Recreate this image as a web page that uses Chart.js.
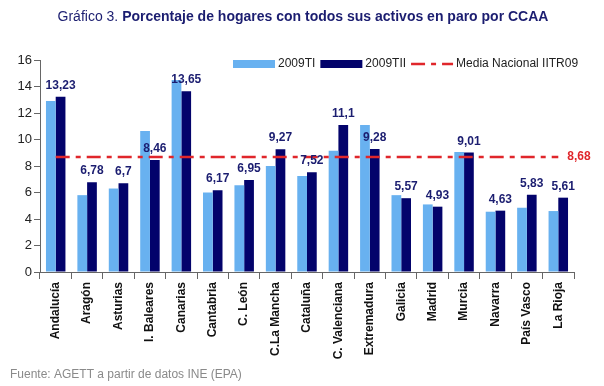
<!DOCTYPE html>
<html>
<head>
<meta charset="utf-8">
<script src="https://cdn.jsdelivr.net/npm/chart.js@4.4.0/dist/chart.umd.min.js"></script>
<style>
  html, body { margin: 0; padding: 0; background: #fff; }
  #wrap { position: relative; width: 604px; height: 386px; }
</style>
</head>
<body>
<div id="wrap"><canvas id="chart" width="604" height="386"></canvas></div>
<script>
// ------------------------- DATA ----------------------------------------------

var regions = ['Andalucía', 'Aragón', 'Asturias', 'I. Baleares', 'Canarias', 'Cantabria', 'C. León',
  'C.La Mancha', 'Cataluña', 'C. Valenciana', 'Extremadura', 'Galicia', 'Madrid', 'Murcia',
  'Navarra', 'País Vasco', 'La Rioja'];
var values2009TI = [12.9, 5.8, 6.3, 10.65, 14.5, 6.0, 6.55, 8.0, 7.25, 9.15, 11.1, 5.8, 5.1, 9.05, 4.55, 4.85, 4.6];
var values2009TII = [13.23, 6.78, 6.7, 8.46, 13.65, 6.17, 6.95, 9.27, 7.52, 11.1, 9.28, 5.57, 4.93, 9.01, 4.63, 5.83, 5.61];
var mediaNacional = 8.68;
var seriesNames = ['2009TI', '2009TII', 'Media Nacional IITR09'];
var titleLead = 'Gráfico 3. ';
var titleMain = 'Porcentaje de hogares con todos sus activos en paro por CCAA';
var sourceNote = 'Fuente: AGETT a partir de datos INE (EPA)';

// ------------------------- HELPERS -------------------------------------------

var FONT = '"Liberation Sans", Arial, sans-serif';

// 13.23 -> "13,23"
var commaDecimal = function(x) {
  return x.toString().replace('.', ',');
};

// ------------------------- PLUGINS -------------------------------------------

// title on top and the source note at the bottom
var textPlugin = {
  id: 'texts',
  afterDraw: function(chart) {
    var ctx = chart.ctx;
    ctx.save();
    ctx.fillStyle = '#1b1d70';
    ctx.textBaseline = 'alphabetic';
    ctx.font = '14px ' + FONT;
    var w1 = ctx.measureText(titleLead).width;
    ctx.font = 'bold 14px ' + FONT;
    var w2 = ctx.measureText(titleMain).width;
    var x = 303 - (w1 + w2) / 2;
    ctx.font = '14px ' + FONT;
    ctx.fillText(titleLead, x, 21);
    ctx.font = 'bold 14px ' + FONT;
    ctx.fillText(titleMain, x + w1, 21);

    ctx.fillStyle = '#8a8a8a';
    ctx.font = '12px ' + FONT;
    ctx.fillText(sourceNote, 10, 378);
    ctx.restore();
  }
};

// legend drawn inside the plot, top right
var legendPlugin = {
  id: 'legendInside',
  afterDraw: function(chart) {
    var ctx = chart.ctx;
    var x = 233, y = 64;
    ctx.save();
    ctx.font = '12px ' + FONT;
    ctx.textBaseline = 'middle';
    chart.data.datasets.forEach(function(ds) {
      if (ds.type === 'line') {
        ctx.strokeStyle = ds.borderColor;
        ctx.lineWidth = ds.borderWidth;
        ctx.setLineDash(ds.borderDash);
        ctx.beginPath();
        ctx.moveTo(x, y);
        ctx.lineTo(x + 42, y);
        ctx.stroke();
        ctx.setLineDash([]);
      } else {
        ctx.fillStyle = ds.backgroundColor;
        ctx.fillRect(x, y - 4, 42, 8);
      }
      x += 45;
      ctx.fillStyle = '#222';
      ctx.fillText(ds.label, x, y);
      x += ctx.measureText(ds.label).width + 5;
    });
    ctx.restore();
  }
};

// values over the 2009TII bars and the national mean label
var valuePlugin = {
  id: 'values',
  afterDatasetsDraw: function(chart) {
    var ctx = chart.ctx;
    ctx.save();
    ctx.font = 'bold 12px ' + FONT;
    ctx.fillStyle = '#1b1d70';
    ctx.textAlign = 'center';
    ctx.textBaseline = 'alphabetic';
    var meta = chart.getDatasetMeta(1);
    meta.data.forEach(function(bar, i) {
      ctx.fillText(commaDecimal(values2009TII[i]), bar.x, bar.y - 8);
    });

    var line = chart.getDatasetMeta(2).data;
    var last = line[line.length - 1];
    ctx.fillStyle = '#e0262b';
    ctx.textAlign = 'left';
    ctx.textBaseline = 'middle';
    ctx.fillText(commaDecimal(mediaNacional), last.x + 9, last.y);
    ctx.restore();
  }
};

// ------------------------- CHART ---------------------------------------------

function makeChart() {
  var canvas = document.getElementById('chart');
  return new Chart(canvas, {
    type: 'bar',
    data: {
      labels: regions,
      datasets: [
        {
          label: seriesNames[0],
          data: values2009TI,
          backgroundColor: '#68b1f0',
          borderWidth: 0,
          categoryPercentage: 0.62,
          barPercentage: 1.0,
          order: 1
        },
        {
          label: seriesNames[1],
          data: values2009TII,
          backgroundColor: '#03036b',
          borderWidth: 0,
          categoryPercentage: 0.62,
          barPercentage: 1.0,
          order: 1
        },
        {
          type: 'line',
          label: seriesNames[2],
          data: regions.map(function() { return mediaNacional; }),
          borderColor: '#e0262b',
          borderWidth: 2.5,
          borderDash: [14, 6, 5, 6],
          pointRadius: 0,
          fill: false,
          order: 0
        }
      ]
    },
    options: {
      responsive: false,
      animation: false,
      layout: { padding: { top: 60, right: 30, left: 0, bottom: 0 } },
      plugins: {
        legend: { display: false },
        title: { display: false },
        tooltip: { enabled: false }
      },
      scales: {
        x: {
          grid: { offset: true, drawOnChartArea: false, tickLength: 7, color: '#666' },
          border: { color: '#666', width: 1 },
          ticks: {
            autoSkip: false,
            maxRotation: 90,
            minRotation: 90,
            padding: 3,
            color: '#111',
            font: { family: FONT, size: 12, weight: 'bold' }
          },
          afterFit: function(scale) { scale.height = 114; }
        },
        y: {
          min: 0,
          max: 16,
          grid: { drawOnChartArea: false, tickLength: 6, color: '#666' },
          border: { color: '#666', width: 1 },
          ticks: {
            stepSize: 2,
            padding: 2,
            color: '#222',
            font: { family: FONT, size: 13 }
          },
          afterFit: function(scale) { scale.width = 40; }
        }
      }
    },
    plugins: [valuePlugin, legendPlugin, textPlugin]
  });
}

makeChart();
</script>
</body>
</html>
